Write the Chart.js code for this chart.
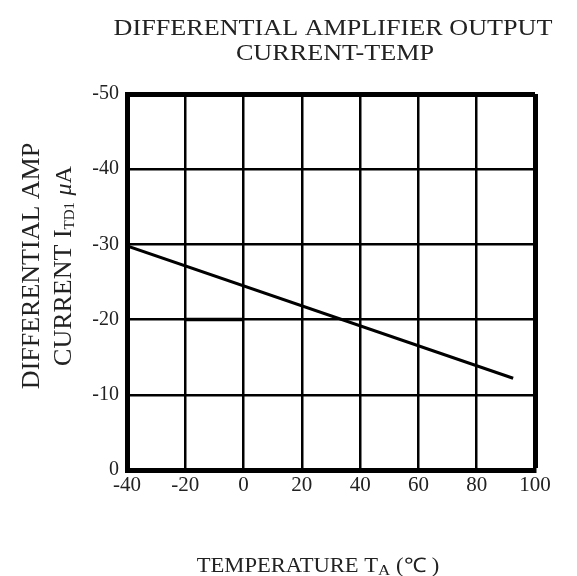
<!DOCTYPE html>
<html>
<head>
<meta charset="utf-8">
<script src="https://cdn.jsdelivr.net/npm/chart.js@4"></script>
<style>
html,body{margin:0;padding:0;background:#fff;}
#wrap{width:577px;height:576px;}
</style>
</head>
<body>
<div id="wrap"><canvas id="c" width="577" height="576"></canvas></div>
<script>
// Data
const temps = [-40, 92.5];
const currents = [-29.8, -12.2];
const stubTemps = [-20, 0];
const stubCurrents = [-20, -20];
const xTicks = [-40, -20, 0, 20, 40, 60, 80, 100];
const yTicks = [-50, -40, -30, -20, -10, 0];
const titleLines = ['DIFFERENTIAL AMPLIFIER OUTPUT', 'CURRENT-TEMP'];

const FONT = '"Liberation Serif", "Times New Roman", serif';

function toPts(xs, ys){ return xs.map((x,i)=>({x:x, y:ys[i]})); }

function drawSegs(ctx, segs, cx, cy, sx){
  sx = sx || 1;
  let w = 0;
  segs.forEach(s=>{ ctx.font = s.font; s.w = ctx.measureText(s.t).width; w += s.w; });
  ctx.save();
  ctx.translate(cx, cy);
  ctx.scale(sx, 1);
  let x = -w/2;
  ctx.textBaseline = 'alphabetic';
  ctx.textAlign = 'left';
  segs.forEach(s=>{ ctx.font = s.font; ctx.fillText(s.t, x, (s.dy||0)); x += s.w; });
  ctx.restore();
}

const textPlugin = {
  id: 'texts',
  afterDraw(chart){
    const ctx = chart.ctx;
    const a = chart.chartArea;
    const cx = (a.left + a.right)/2;
    ctx.save();
    ctx.fillStyle = '#222';
    // Title
    drawSegs(ctx, [{t:titleLines[0], font:'24px '+FONT}], cx+2, 35, 1.09);
    drawSegs(ctx, [{t:titleLines[1], font:'24px '+FONT}], cx+4, 60, 1.09);
    // X title
    drawSegs(ctx, [
      {t:'TEMPERATURE T', font:'20px '+FONT},
      {t:'A', font:'15px '+FONT, dy:3},
      {t:' (\u2103 )', font:'20px '+FONT}
    ], 318, 572, 1.13);
    // Y title (rotated)
    ctx.save();
    ctx.translate(39, 266);
    ctx.rotate(-Math.PI/2);
    drawSegs(ctx, [{t:'DIFFERENTIAL AMP', font:'26px '+FONT}], 0, 0);
    ctx.restore();
    ctx.save();
    ctx.translate(71, 266);
    ctx.rotate(-Math.PI/2);
    drawSegs(ctx, [
      {t:'CURRENT I', font:'26px '+FONT},
      {t:'TD1', font:'15px '+FONT, dy:3},
      {t:' ', font:'26px '+FONT},
      {t:'\u03bc', font:'italic 24px '+FONT},
      {t:'A', font:'24px '+FONT}
    ], 0, 0);
    ctx.restore();
    ctx.restore();
  }
};

new Chart(document.getElementById('c'), {
  type: 'scatter',
  data: {
    datasets: [
      {
        data: toPts(temps, currents),
        showLine: true,
        borderColor: '#000',
        borderWidth: 3,
        pointRadius: 0,
        tension: 0
      },
      {
        data: toPts(stubTemps, stubCurrents),
        showLine: true,
        borderColor: '#000',
        borderWidth: 3.5,
        pointRadius: 0,
        tension: 0
      }
    ]
  },
  options: {
    responsive: false,
    animation: false,
    devicePixelRatio: 1,
    layout: { padding: { left: 0, top: 94, right: 42, bottom: 0 } },
    plugins: { legend: { display: false }, tooltip: { enabled: false } },
    scales: {
      x: {
        type: 'linear',
        min: -40, max: 100,
        afterBuildTicks(s){ s.ticks = xTicks.map(v=>({value:v})); },
        afterFit(s){ s.height = 106; },
        grid: {
          color: '#000',
          lineWidth: c => (c.tick && c.tick.value === 100) ? 5 : 2.5,
          drawTicks: false
        },
        border: { color: '#000', width: 5 },
        ticks: {
          color: '#222',
          padding: 3,
          maxRotation: 0,
          autoSkip: false,
          font: { family: FONT, size: 21 }
        }
      },
      y: {
        type: 'linear',
        min: -50, max: 0,
        reverse: true,
        afterBuildTicks(s){ s.ticks = yTicks.map(v=>({value:v})); },
        afterFit(s){ s.width = 127; },
        grid: {
          color: '#000',
          lineWidth: c => (c.tick && c.tick.value === -50) ? 5 : 2.5,
          drawTicks: false
        },
        border: { color: '#000', width: 5 },
        ticks: {
          color: '#222',
          padding: 8,
          autoSkip: false,
          font: { family: FONT, size: 20 }
        }
      }
    }
  },
  plugins: [textPlugin]
});
</script>
</body>
</html>
